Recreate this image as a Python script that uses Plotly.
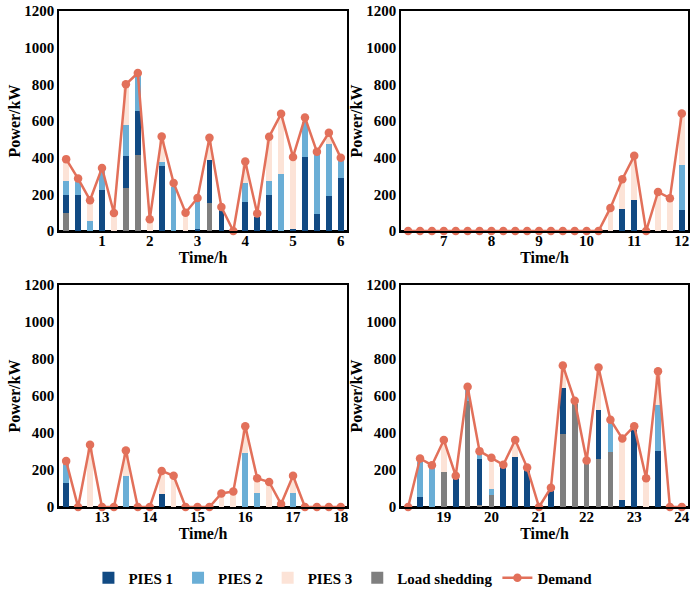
import plotly.graph_objects as go

# ---- data (kW), 15-min steps, four 6-hour panels ----
panel_starts = [0, 6, 12, 18]
tick_labels = [["1", "2", "3", "4", "5", "6"],
               ["7", "8", "9", "10", "11", "12"],
               ["13", "14", "15", "16", "17", "18"],
               ["19", "20", "21", "22", "23", "24"]]

load_shedding = [
    [100, 0, 0, 0, 0, 233, 417, 0, 0, 0, 0, 0, 155, 0, 0, 0, 0, 0, 0, 0, 0, 0, 0, 0],
    [0] * 24,
    [0] * 24,
    [0, 0, 0, 191, 0, 572, 9, 66, 0, 0, 0, 0, 0, 395, 559, 240, 259, 299, 0, 0, 0, 0, 0, 0],
]
pies1 = [
    [97, 197, 0, 222, 0, 175, 239, 0, 355, 0, 0, 10, 231, 117, 0, 158, 77, 197, 0, 12, 401, 91, 189, 288],
    [0, 0, 0, 0, 0, 0, 0, 0, 0, 0, 0, 0, 0, 0, 0, 0, 0, 0, 118, 169, 0, 0, 0, 113],
    [128, 0, 0, 0, 0, 0, 0, 0, 69, 0, 0, 0, 0, 0, 0, 0, 0, 0, 0, 0, 0, 0, 0, 0],
    [0, 53, 0, 0, 155, 0, 251, 0, 217, 271, 199, 0, 89, 246, 0, 0, 264, 0, 38, 428, 0, 304, 0, 0],
]
pies2 = [
    [76, 71, 53, 115, 0, 169, 206, 0, 24, 240, 0, 158, 0, 0, 0, 104, 0, 76, 311, 0, 195, 332, 285, 98],
    [0, 0, 0, 0, 0, 0, 0, 0, 0, 0, 0, 0, 0, 0, 0, 0, 0, 0, 0, 0, 0, 0, 0, 246],
    [112, 0, 0, 0, 0, 169, 0, 0, 0, 0, 0, 0, 0, 0, 0, 291, 78, 0, 0, 78, 0, 0, 0, 0],
    [0, 191, 217, 0, 0, 66, 31, 34, 0, 0, 0, 0, 0, 0, 0, 0, 0, 156, 0, 0, 0, 250, 0, 0],
]
pies3 = [
    [119, 18, 115, 7, 98, 223, 0, 64, 136, 22, 100, 12, 122, 14, 0, 117, 18, 241, 328, 385, 23, 9, 62, 13],
    [0, 0, 0, 0, 0, 0, 0, 0, 0, 0, 0, 0, 0, 0, 0, 0, 0, 126, 164, 241, 0, 213, 179, 282],
    [8, 0, 337, 0, 0, 137, 0, 0, 126, 169, 0, 0, 0, 73, 84, 146, 77, 135, 16, 91, 0, 0, 0, 0],
    [0, 18, 9, 171, 14, 12, 11, 166, 11, 91, 14, 0, 15, 124, 15, 11, 231, 17, 332, 9, 155, 180, 0, 0],
]
demand = [
    [392, 286, 168, 344, 98, 800, 862, 64, 515, 262, 100, 180, 508, 131, 0, 379, 95, 514, 639, 404, 619, 432, 536, 399],
    [0, 0, 0, 0, 0, 0, 0, 0, 0, 0, 0, 0, 0, 0, 0, 0, 0, 126, 282, 410, 0, 213, 179, 641],
    [248, 0, 337, 0, 0, 306, 0, 0, 195, 169, 0, 0, 0, 73, 84, 437, 155, 135, 16, 169, 0, 0, 0, 0],
    [0, 262, 226, 362, 169, 650, 302, 266, 228, 362, 213, 0, 104, 765, 574, 251, 754, 472, 370, 437, 155, 734, 0, 0],
]

C_P1 = "#114a83"
C_P2 = "#6aaed6"
C_P3 = "#fce3d7"
C_LS = "#7f7f7f"
C_D = "#e2705a"
FONT = "Liberation Serif"

W, H = 690, 592
# panel frames in pixels: (left, right, top, bottom)
frames = [(59, 347, 11, 231), (401, 688, 11, 231), (59, 347, 285, 507), (401, 688, 285, 507)]

fig = go.Figure()
series = [("Load shedding", load_shedding, C_LS, 4),
          ("PIES 1", pies1, C_P1, 1),
          ("PIES 2", pies2, C_P2, 2),
          ("PIES 3", pies3, C_P3, 3)]

for k in range(4):
    s = panel_starts[k]
    times = [s + 0.25 * (i + 1) for i in range(24)]
    xa = "x" if k == 0 else f"x{k+1}"
    ya = "y" if k == 0 else f"y{k+1}"
    for name, data, col, rank in series:
        fig.add_trace(go.Bar(x=times, y=data[k], name=name, marker=dict(color=col, line=dict(width=0)),
                             width=0.12, xaxis=xa, yaxis=ya, legendgroup=name, legendrank=rank,
                             showlegend=(k == 0)))
    fig.add_trace(go.Scatter(x=times, y=demand[k], name="Demand", mode="lines+markers",
                             line=dict(color=C_D, width=2.5), marker=dict(color=C_D, size=8.5),
                             xaxis=xa, yaxis=ya, legendgroup="Demand", legendrank=5,
                             showlegend=(k == 0), cliponaxis=False))

tickfont = dict(family=FONT, size=15, color="black", weight="bold")
titlefont = dict(family=FONT, size=16, color="black", weight="bold")
layout = {}
for k in range(4):
    l, r, t, b = frames[k]
    s = panel_starts[k]
    xk = "xaxis" if k == 0 else f"xaxis{k+1}"
    yk = "yaxis" if k == 0 else f"yaxis{k+1}"
    ya = "y" if k == 0 else f"y{k+1}"
    xa = "x" if k == 0 else f"x{k+1}"
    layout[xk] = dict(domain=[l / W, r / W], anchor=ya, range=[s + 0.1, s + 6.13],
                      tickvals=[s + j for j in range(1, 7)], ticktext=tick_labels[k],
                      showgrid=False, zeroline=False, showline=True, linecolor="black", linewidth=1.5,
                      mirror=True, ticks="", tickfont=tickfont, automargin=False,
                      ticklabelstandoff=-5,
                      title=dict(text="Time/h", font=titlefont, standoff=0))
    layout[yk] = dict(domain=[(H - b) / H, (H - t) / H], anchor=xa, range=[0, 1200],
                      tickvals=[0, 200, 400, 600, 800, 1000, 1200], showgrid=False,
                      zeroline=True, zerolinecolor="black", zerolinewidth=3,
                      showline=True, linecolor="black", linewidth=1.5, mirror=True, ticks="",
                      tickfont=tickfont, automargin=False,
                      title=dict(text="Power/kW", font=titlefont, standoff=0))

fig.update_layout(**layout)
fig.update_layout(
    width=W, height=H, barmode="stack", bargap=0,
    paper_bgcolor="white", plot_bgcolor="white",
    margin=dict(l=0, r=0, t=0, b=0, autoexpand=False),
    font=dict(family=FONT, size=15, color="black", weight="bold"),
    legend=dict(orientation="h", x=0.497, xanchor="center", y=(592 - 578) / 592, yanchor="middle",
                font=dict(family=FONT, size=15, color="black", weight="bold"),
                traceorder="normal", itemwidth=30),
)
fig.write_html("out.html", config={"displayModeBar": False},
               post_script="document.body.style.margin='0';document.body.style.overflow='hidden';")
